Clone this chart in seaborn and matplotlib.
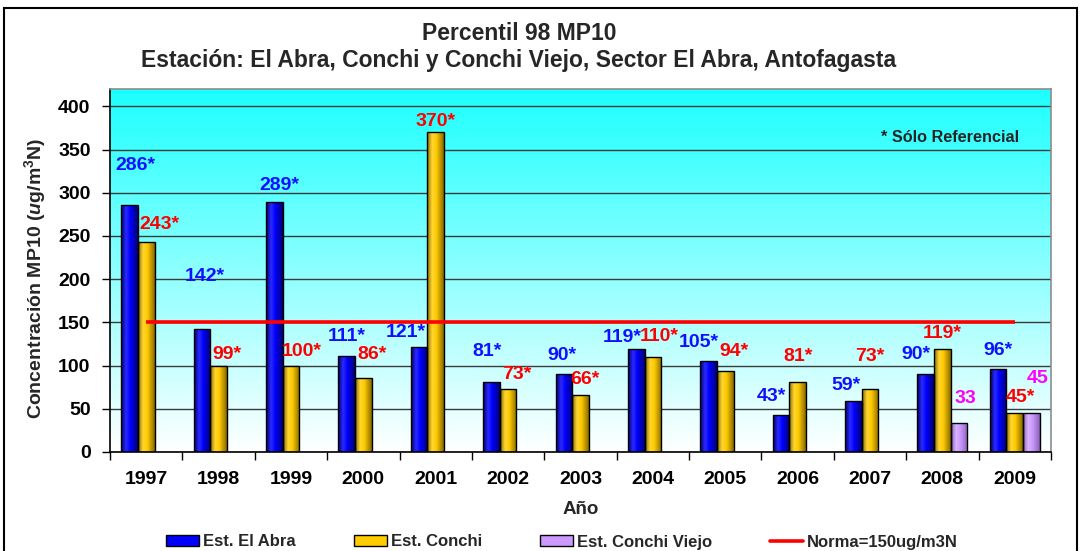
import numpy as np
import pandas as pd
import matplotlib
matplotlib.use("Agg")
import matplotlib.pyplot as plt
import seaborn as sns
from matplotlib.colors import LinearSegmentedColormap
from matplotlib.patches import Rectangle, Patch
from matplotlib.lines import Line2D

# ---------------- data ----------------
years = ["1997", "1998", "1999", "2000", "2001", "2002", "2003",
         "2004", "2005", "2006", "2007", "2008", "2009"]
el_abra = [286, 142, 289, 111, 121, 81, 90, 119, 105, 43, 59, 90, 96]
conchi = [243, 99, 100, 86, 370, 73, 66, 110, 94, 81, 73, 119, 45]
conchi_viejo = [np.nan] * 11 + [33, 45]
norma_value = 150
series_names = ["Est. El Abra", "Est. Conchi", "Est. Conchi Viejo"]
norma_label = "Norma=150ug/m3N"
label_suffix = ["*", "*", ""]

# label placement offsets (pixels, relative to bar top centre) -- text layout only
dx_abra = [6, 3, 5, 0, -13, -4, -2, -14, -10, -10, -7, -10, 0]
dy_abra = [39, 53, 17, 20, 15, 30, 19, 12, 19, 18, 16, 20, 19]
dx_conchi = [13, 8, 11, 9, 0, 9, 4, 6, 9, 0, 0, 0, 6]
dy_conchi = [17, 12, 14, 23, 11, 14, 15, 20, 19, 25, 32, 16, 16]
dx_viejo = [0] * 11 + [6, 6]
dy_viejo = [0] * 11 + [25, 35]

df = pd.DataFrame({
    "year": years * 3,
    "value": el_abra + conchi + conchi_viejo,
    "station": [series_names[0]] * 13 + [series_names[1]] * 13 + [series_names[2]] * 13,
})

bar_colors = ["#0000FF", "#FFCC00", "#CC99FF"]
dark_colors = ["#000070", "#8A6A00", "#8A62B8"]
light_colors = ["#2A2AFF", "#FFD633", "#D9B3FF"]
label_colors = ["#1010FF", "#FF0000", "#FF00FF"]

# ---------------- style ----------------
sns.set_theme(style="white")
plt.rcParams['font.family'] = ['Liberation Sans', 'DejaVu Sans']
plt.rcParams['font.weight'] = 'bold'
plt.rcParams['mathtext.fontset'] = 'custom'
plt.rcParams['mathtext.it'] = 'Liberation Sans:italic:bold'
plt.rcParams['mathtext.rm'] = 'Liberation Sans:bold'

W, H = 1082, 551
fig = plt.figure(figsize=(W / 100, H / 100), dpi=100)
fig.patch.set_facecolor("white")
ax = fig.add_axes([110 / W, 1 - 452 / H, 941 / W, 363 / H])

sns.barplot(data=df, x="year", y="value", hue="station", order=years,
            hue_order=series_names, palette=bar_colors, width=0.69,
            saturation=1, errorbar=None, edgecolor="black", linewidth=1,
            legend=False, ax=ax)

YTOP = 420
# background gradient
bg_cmap = LinearSegmentedColormap.from_list("bg", ["#FFFFFF", "#1CFFFF"])
ax.imshow(np.linspace(0, 1, 256)[:, None], extent=[-0.5, 12.5, 0, YTOP],
          origin="lower", aspect="auto", cmap=bg_cmap, zorder=0)

# gradient fill for bars
grad = np.linspace(0, 1, 64)[None, :]
for i, cont in enumerate(ax.containers):
    cmap = LinearSegmentedColormap.from_list(
        f"g{i}", [(0, dark_colors[i]), (0.3, light_colors[i]), (0.55, bar_colors[i]), (1, dark_colors[i])])
    for bar in cont:
        h = bar.get_height()
        if not np.isfinite(h) or h == 0:
            continue
        x0, w = bar.get_x(), bar.get_width()
        im = ax.imshow(grad, extent=[x0, x0 + w, 0, h], aspect="auto",
                       cmap=cmap, zorder=2)
        im.set_clip_path(bar)
        bar.set_facecolor("none")
        bar.set_zorder(3)

# norma line
ax.plot([years.index(years[0]), years.index(years[-1])], [norma_value, norma_value],
        color="#FF0000", lw=2.6, zorder=4, solid_capstyle="butt")

ax.set_xlim(-0.5, 12.5)
ax.set_ylim(0, YTOP)
ax.set_yticks(np.arange(0, 401, 50))
ax.yaxis.grid(True, color="#3A3A3A", lw=1)
ax.set_axisbelow(True)
for gl in ax.get_ygridlines():
    gl.set_zorder(1)

ax.set_xticks(range(len(years)))
ax.set_xticklabels(years)
ax.set_xticks(np.arange(-0.5, 12.6, 1), minor=True)
ax.tick_params(axis="x", which="major", length=0, pad=14, labelsize=14, colors="black")
ax.tick_params(axis="x", which="minor", length=6, width=1, color="black", direction="out", bottom=True)
ax.tick_params(axis="y", which="major", length=6, width=1, color="black", direction="out",
               left=True, pad=8, labelsize=14, labelcolor="black")
for lab in ax.get_xticklabels() + ax.get_yticklabels():
    lab.set_fontweight("bold")

ax.set_xlabel("")
ax.set_ylabel("")
for s in ["left", "bottom"]:
    ax.spines[s].set_color("black")
    ax.spines[s].set_linewidth(1.2)
for s in ["top", "right"]:
    ax.spines[s].set_color("#8C8C8C")
    ax.spines[s].set_linewidth(1.2)
ax.spines["bottom"].set_zorder(5)

# data labels
vals = [el_abra, conchi, conchi_viejo]
dxs = [dx_abra, dx_conchi, dx_viejo]
dys = [dy_abra, dy_conchi, dy_viejo]
for i, cont in enumerate(ax.containers):
    for bar in cont:
        xc = bar.get_x() + bar.get_width() / 2
        j = int(round(xc))
        v = vals[i][j]
        if not np.isfinite(v):
            continue
        ax.annotate(f"{int(v)}{label_suffix[i]}", (xc, v),
                    xytext=(dxs[i][j], dys[i][j]), textcoords="offset pixels",
                    ha="center", va="center", fontsize=14, fontweight="bold",
                    color=label_colors[i], zorder=6, annotation_clip=False)

fig.text(950 / W, 1 - 137 / H, "* Sólo Referencial", fontsize=11.7,
         fontweight="bold", ha="center", va="center")

# titles & labels
fig.text(519 / W, 1 - 33 / H, "Percentil 98 MP10", ha="center", va="center",
         fontsize=16.5, fontweight="bold")
fig.text(519 / W, 1 - 60 / H, "Estación: El Abra, Conchi y Conchi Viejo, Sector El Abra, Antofagasta",
         ha="center", va="center", fontsize=16.5, fontweight="bold")
fig.text(35 / W, 1 - 278 / H, r"Concentración MP10 ($\mathit{u}$g/m$^{3}$N)", rotation=90,
         ha="center", va="center", fontsize=14, fontweight="bold")
fig.text(581 / W, 1 - 510 / H, "Año", ha="center", va="center", fontsize=13.5, fontweight="bold")

handles = [Patch(facecolor=bar_colors[k], edgecolor="black", lw=1) for k in range(3)]
handles.append(Line2D([0], [0], color="#FF0000", lw=2.6))
fig.legend(handles, series_names + [norma_label], loc="center",
           bbox_to_anchor=(562 / W, 1 - 542 / H), ncol=4, frameon=False,
           prop={"size": 12, "weight": "bold"}, handlelength=2.0, handleheight=0.6,
           handletextpad=0.25, columnspacing=3.45, borderpad=0, borderaxespad=0)

fig.patches.append(Rectangle((4 / W, -0.05), (1077 - 4) / W, 1 - 8 / H + 0.05,
                             transform=fig.transFigure, fill=False, ec="black", lw=1.5))

fig.savefig("out.png", dpi=100)
